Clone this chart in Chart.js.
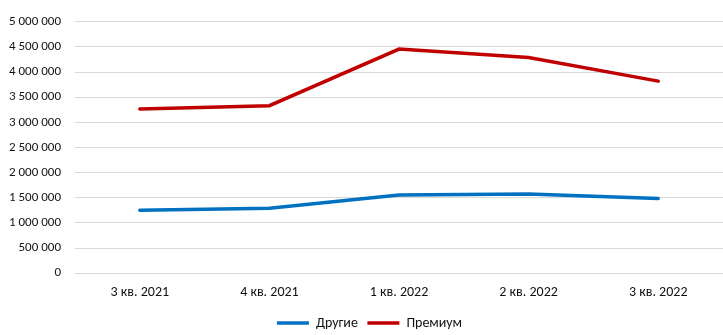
<!DOCTYPE html>
<html>
<head>
<meta charset="utf-8">
<script src="https://cdn.jsdelivr.net/npm/chart.js@4/dist/chart.umd.min.js"></script>
<style>
  html, body { margin: 0; padding: 0; background: #fff; }
  #wrap { width: 723px; height: 335px; }
</style>
</head>
<body>
<div id="wrap"><canvas id="salesChart" width="723" height="335"></canvas></div>
<script>
// Кварталы и значения по сегментам
const quarters = ['3 кв. 2021', '4 кв. 2021', '1 кв. 2022', '2 кв. 2022', '3 кв. 2022'];
const drugie = [1251000, 1290000, 1553000, 1573000, 1488000];
const premium = [3267000, 3332000, 4458000, 4288000, 3820000];

const fontFamily = "Carlito, Lato, 'Liberation Sans', sans-serif";

// 5000000 -> "5 000 000"
const fmt = (v) => String(v).replace(/\B(?=(\d{3})+(?!\d))/g, ' ');

// легенду чуть правее и ниже, как в исходном отчёте
const legendShift = {
    id: 'legendShift',
    afterLayout(chart) {
        const lg = chart.legend;
        if (!lg) return;
        lg.left += 8;
        lg.right += 8;
        lg.top += 4;
        lg.bottom += 4;
    }
};

const ctx = document.getElementById('salesChart').getContext('2d');
const salesChart = new Chart(ctx, {
    type: 'line',
    data: {
        labels: quarters,
        datasets: [
            { label: 'Другие', data: drugie, borderColor: '#0070C0', backgroundColor: '#0070C0', borderWidth: 3.5, borderCapStyle: 'round', pointRadius: 0, tension: 0 },
            { label: 'Премиум', data: premium, borderColor: '#C00000', backgroundColor: '#C00000', borderWidth: 3.5, borderCapStyle: 'round', pointRadius: 0, tension: 0 }
        ]
    },
    options: {
        responsive: false,
        animation: false,
        layout: { padding: { top: 19, right: 0, bottom: -1, left: 0 } },
        scales: {
            x: {
                offset: true,
                grid: { display: false, drawTicks: false },
                border: { display: false },
                ticks: { color: '#111', font: { family: fontFamily, size: 14 }, padding: 11, maxRotation: 0 }
            },
            y: {
                min: 0,
                max: 5000000,
                grid: { color: '#d9d9d9', lineWidth: 1, drawTicks: false },
                border: { display: false },
                ticks: { stepSize: 500000, color: '#111', font: { family: fontFamily, size: 13 }, padding: 14, callback: fmt },
                afterFit: (scale) => { scale.width = 75; }
            }
        },
        plugins: {
            tooltip: { enabled: false },
            legend: {
                position: 'bottom',
                labels: {
                    usePointStyle: true,
                    pointStyle: 'line',
                    pointStyleWidth: 32,
                    boxHeight: 13,
                    padding: 0,
                    color: '#111',
                    font: { family: fontFamily, size: 14 },
                    // зазор между пунктами легенды
                    generateLabels: (chart) => Chart.defaults.plugins.legend.labels.generateLabels(chart)
                        .map((l, i, all) => ({ ...l, text: i < all.length - 1 ? l.text + '   ' : l.text }))
                }
            }
        }
    },
    plugins: [legendShift]
});
</script>
</body>
</html>
